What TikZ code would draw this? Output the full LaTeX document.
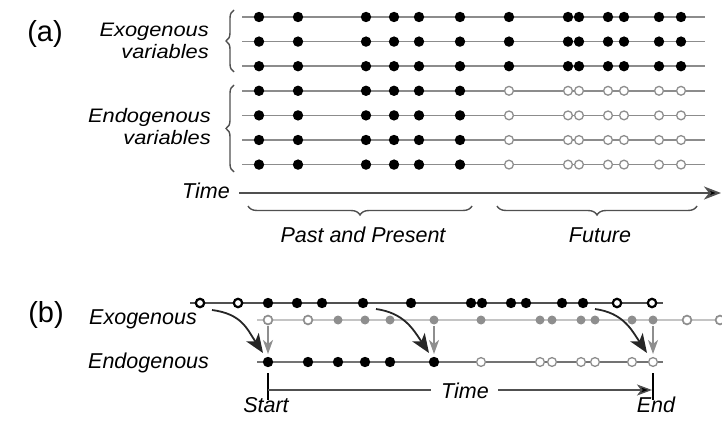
\documentclass[tikz,border=0pt]{standalone}
\usepackage{fontspec}
\setmainfont{Liberation Sans}
\usetikzlibrary{arrows.meta,decorations.pathreplacing}
\definecolor{lineg}{HTML}{8C8C8C}
\definecolor{darkg}{HTML}{505050}
\definecolor{lightg}{HTML}{C4C4C4}
\definecolor{dotg}{HTML}{8E8E8E}
\newcommand\leftlab[1]{\scalebox{1.12}[1]{#1}}
\begin{document}
\begin{tikzpicture}[x=1pt,y=-1pt,
  lab/.style={font=\fontsize{21.5}{24}\selectfont\itshape, inner sep=0pt},
  llab/.style={font=\fontsize{19.5}{22}\selectfont\itshape, inner sep=0pt},
  big/.style={font=\fontsize{29}{31}\selectfont, inner sep=0pt},
  aline/.style={draw=lineg, line width=1.5pt},
  fdot/.style={circle, fill=black, inner sep=0pt, minimum size=10.4pt},
  odot/.style={circle, draw=dotg, fill=white, line width=1.3pt, inner sep=0pt, minimum size=8.8pt},
  tdot/.style={circle, draw=black, fill=white, line width=2.2pt, inner sep=0pt, minimum size=8.4pt},
  gdot/.style={circle, fill=dotg, inner sep=0pt, minimum size=9pt},
  bracestyle/.style={draw=darkg, line width=1.4pt, decorate, decoration={brace, amplitude=8pt}},
  curvearrow/.style={draw=black!85, line width=1.8pt, -{Stealth[length=19pt,width=15pt,inset=5pt]}},
  grayarrow/.style={draw=dotg, line width=1.9pt, -{Stealth[length=14pt,width=10pt,inset=4pt]}},
  tick/.style={draw=black, line width=1.8pt}
]
\useasboundingbox (0,0) rectangle (722,443);
\fill[white] (0,0) rectangle (722,443);

% ---------- (a) ----------
\node[big] (la) at (45,33.5) {(a)};
\node[llab, anchor=base east] (exo1) at (209,37) {\leftlab{Exogenous}};
\node[llab, anchor=base east] (exo2) at (209,59) {\leftlab{variables}};
\node[llab, anchor=base east] (endo1) at (211,122.5) {\leftlab{Endogenous}};
\node[llab, anchor=base east] (endo2) at (211,144.5) {\leftlab{variables}};

\coordinate (exbt) at (234,10);
\coordinate (exbb) at (234,72);
\coordinate (enbt) at (234,85);
\coordinate (enbb) at (234,172);
\draw[bracestyle] (exbb) -- (exbt);
\draw[bracestyle] (enbb) -- (enbt);

\foreach \r in {0,...,6}{
  \pgfmathsetmacro{\yy}{17+24.6*\r}
  \coordinate (rs\r) at (242,\yy);
  \coordinate (re\r) at (705,\yy);
  \draw[aline] (rs\r) -- (re\r);
  \foreach \x [count=\i] in {259,298,366,394,419,460}
    \node[fdot] (p\r-\i) at (\x,\yy) {};
  \foreach \x [count=\i] in {509,568,579,608,624,659,681}{
    \ifnum\r<3
      \node[fdot] (f\r-\i) at (\x,\yy) {};
    \else
      \node[odot] (f\r-\i) at (\x,\yy) {};
    \fi
  }
}

\node[lab, anchor=base east] (timea) at (230,199) {Time};
\coordinate (tas) at (239,193);
\coordinate (tae) at (721,193);
\draw[draw=darkg, line width=1.9pt, -{Stealth[length=17pt,width=13pt,inset=5pt,fill=black]}] (tas) -- (tae);

\coordinate (ppl) at (248,206);
\coordinate (ppr) at (472,206);
\coordinate (ful) at (497,206);
\coordinate (fur) at (697,206);
\draw[bracestyle, decoration={amplitude=9pt}] (ppr) -- (ppl);
\draw[bracestyle, decoration={amplitude=9pt}] (fur) -- (ful);
\node[lab, anchor=base] (past) at (363,243) {Past and Present};
\node[lab, anchor=base] (fut) at (600,243) {Future};

% ---------- (b) ----------
\node[big] (lb) at (46,314.5) {(b)};
\node[lab, anchor=base east] (bexo) at (197,324) {Exogenous};
\node[lab, anchor=base west] (bendo) at (88,368) {Endogenous};

\coordinate (l1s) at (190,303); \coordinate (l1e) at (663,303);
\coordinate (l2s) at (257,320); \coordinate (l2e) at (722,320);
\coordinate (l3s) at (257,362); \coordinate (l3e) at (663,362);
\draw[draw=darkg, line width=1.4pt] (l1s) -- (l1e);
\draw[draw=lightg, line width=1.3pt] (l2s) -- (l2e);
\draw[draw=darkg!80, line width=1.4pt] (l3s) -- (l3e);

% top row
\foreach \x [count=\i] in {200,238,268,297,322,363,411,471,482,511,526,562,583,617,652}{
  \ifnum\i<3
    \node[tdot] (t\i) at (\x,303) {};
  \else\ifnum\i>13
    \node[tdot] (t\i) at (\x,303) {};
  \else
    \node[fdot] (t\i) at (\x,303) {};
  \fi\fi
}
% shifted row
\foreach \x [count=\i] in {268,308,338,365,390,434,481,540,552,581,595,632,653,687,720}{
  \ifnum\i<3
    \node[odot, line width=1.7pt] (s\i) at (\x,320) {};
  \else\ifnum\i>13
    \node[odot, line width=1.7pt] (s\i) at (\x,320) {};
  \else
    \node[gdot] (s\i) at (\x,320) {};
  \fi\fi
}
% endogenous row
\foreach \x [count=\i] in {268,308,338,365,390,434,481,540,552,581,595,632,653}{
  \ifnum\i<7
    \node[fdot] (e\i) at (\x,362) {};
  \else
    \node[odot] (e\i) at (\x,362) {};
  \fi
}

% arrows
\draw[curvearrow] ([shift={(12,7)}]t1.center) .. controls +(30,4) and +(-16,-24) .. ([shift={(-5,-9)}]e1.center);
\draw[curvearrow] ([shift={(13,6)}]t6.center) .. controls +(28,4) and +(-16,-24) .. ([shift={(-5,-9)}]e6.center);
\draw[curvearrow] ([shift={(12,6)}]t13.center) .. controls +(28,4) and +(-16,-24) .. ([shift={(-6,-9)}]e13.center);
\draw[grayarrow] ([shift={(0,6)}]s1.center) -- ([shift={(0,-8)}]e1.center);
\draw[grayarrow] ([shift={(0,6)}]s6.center) -- ([shift={(0,-8)}]e6.center);
\draw[grayarrow] ([shift={(0,6)}]s13.center) -- ([shift={(0,-8)}]e13.center);

% time bar
\coordinate (st1) at (268,373); \coordinate (st2) at (268,400);
\coordinate (en1) at (653,373); \coordinate (en2) at (653,400);
\coordinate (stm) at (268,390); \coordinate (enm) at (652,390);
\draw[tick] (st1) -- (st2);
\draw[tick] (en1) -- (en2);
\node[lab, anchor=base] (timeb) at (465,398) {Time};
\draw[draw=darkg, line width=1.4pt] (stm) -- ([xshift=-10pt]timeb.west |- stm);
\draw[draw=darkg, line width=1.4pt, -{Stealth[length=15pt,width=11pt,inset=4pt,fill=black]}] ([xshift=9pt]timeb.east |- enm) -- (enm);
\node[lab, anchor=base] (startl) at (266,412) {Start};
\node[lab, anchor=base] (endl) at (656,412) {End};
\end{tikzpicture}
\end{document}
